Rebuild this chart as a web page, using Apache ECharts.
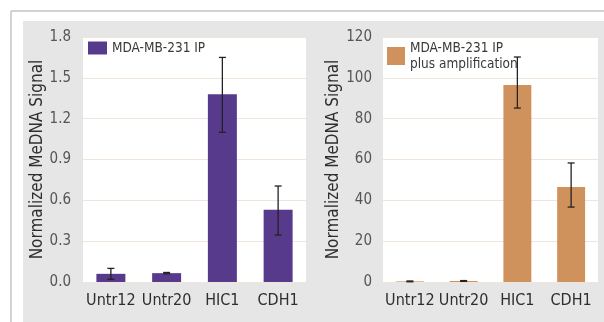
<!DOCTYPE html>
<html>
<head>
<meta charset="utf-8">
<script src="https://cdn.jsdelivr.net/npm/echarts@6/dist/echarts.min.js"></script>
<style>
  html, body { margin: 0; padding: 0; background: #fff; }
  #chart { width: 604px; height: 322px; }
</style>
</head>
<body>
<div id="chart"></div>
<script>
// Gene targets on the x axis
const categories = ['Untr12', 'Untr20', 'HIC1', 'CDH1'];

// MeDNA signal after immunoprecipitation (left panel)
const ipName = 'MDA-MB-231 IP';
const ipValues = [0.06, 0.065, 1.38, 0.53];
const ipLow = [0.02, 0.06, 1.10, 0.345];
const ipHigh = [0.10, 0.07, 1.65, 0.705];
const ipTicks = [0, 0.3, 0.6, 0.9, 1.2, 1.5, 1.8];

// MeDNA signal after immunoprecipitation plus amplification (right panel)
const ampName = 'MDA-MB-231 IP\nplus amplification';
const ampValues = [0.3, 0.5, 96.5, 46.5];
const ampLow = [0.1, 0.3, 85.2, 36.7];
const ampHigh = [0.5, 0.7, 110.2, 58.3];
const ampTicks = [0, 20, 40, 60, 80, 100, 120];

const FONT = '"Liberation Sans Narrow", "DejaVu Sans Condensed", sans-serif';
const PURPLE = '#573a8c';
const ORANGE = '#d0925c';

function errorSeries(xIdx, low, high) {
  return {
    type: 'custom',
    xAxisIndex: xIdx,
    yAxisIndex: xIdx,
    z: 5,
    silent: true,
    data: categories.map((c, i) => [i, low[i], high[i]]),
    renderItem: function (params, api) {
      const x = api.value(0);
      const lo = api.coord([x, api.value(1)]);
      const hi = api.coord([x, api.value(2)]);
      const cap = 3.5;
      const style = { stroke: '#222', lineWidth: 1.3 };
      return {
        type: 'group',
        children: [
          { type: 'line', shape: { x1: hi[0], y1: hi[1], x2: lo[0], y2: lo[1] }, style },
          { type: 'line', shape: { x1: hi[0] - cap, y1: hi[1], x2: hi[0] + cap, y2: hi[1] }, style },
          { type: 'line', shape: { x1: lo[0] - cap, y1: lo[1], x2: lo[0] + cap, y2: lo[1] }, style }
        ]
      };
    }
  };
}

function xAxis(gridIndex) {
  return {
    type: 'category',
    gridIndex,
    data: categories,
    axisLine: { show: false },
    axisTick: { show: false },
    axisLabel: { interval: 0, color: '#2e2e2e', fontFamily: FONT, fontSize: 16, margin: 11 }
  };
}

function yAxis(gridIndex, ticks, decimals, gap, margin) {
  return {
    type: 'value',
    gridIndex,
    min: ticks[0],
    max: ticks[ticks.length - 1],
    interval: ticks[1] - ticks[0],
    name: 'Normalized MeDNA Signal',
    nameLocation: 'middle',
    nameGap: gap,
    nameTextStyle: { color: '#2e2e2e', fontFamily: FONT, fontSize: 17 },
    axisLine: { show: false },
    axisTick: { show: false },
    splitLine: { lineStyle: { color: '#efe5db', width: 1 } },
    axisLabel: {
      color: '#555',
      fontFamily: FONT,
      fontSize: 15,
      margin,
      formatter: v => v.toFixed(decimals)
    }
  };
}

const chart = echarts.init(document.getElementById('chart'), null, { renderer: 'canvas' });

chart.setOption({
  backgroundColor: '#fff',
  animation: false,
  graphic: [
    { type: 'rect', z: -10, shape: { x: 23, y: 21, width: 581, height: 301 }, style: { fill: '#e6e6e7' } },
    { type: 'line', z: -10, shape: { x1: 11, y1: 11, x2: 604, y2: 11 }, style: { stroke: '#c4c4c4', lineWidth: 1.5 } },
    { type: 'line', z: -10, shape: { x1: 11, y1: 11, x2: 11, y2: 322 }, style: { stroke: '#c4c4c4', lineWidth: 1.5 } }
  ],
  grid: [
    { left: 83, top: 37, width: 223, height: 245, show: true, backgroundColor: '#fff', borderWidth: 0 },
    { left: 383, top: 37, width: 215, height: 245, show: true, backgroundColor: '#fff', borderWidth: 0 }
  ],
  legend: [
    {
      data: [ipName],
      left: 83, top: 36,
      itemWidth: 19, itemHeight: 13, itemGap: 0,
      icon: 'rect',
      textStyle: { color: '#3a3a3a', fontFamily: FONT, fontSize: 13.5 },
      selectedMode: false
    },
    {
      data: [ampName],
      left: 382, top: 35,
      itemWidth: 18, itemHeight: 18, itemGap: 0,
      icon: 'rect',
      textStyle: { color: '#3a3a3a', fontFamily: FONT, fontSize: 13.5, lineHeight: 16 },
      selectedMode: false
    }
  ],
  xAxis: [xAxis(0), xAxis(1)],
  yAxis: [yAxis(0, ipTicks, 1, 29, 12), yAxis(1, ampTicks, 0, 31, 11)],
  series: [
    { name: ipName, type: 'bar', xAxisIndex: 0, yAxisIndex: 0, barWidth: '52%', data: ipValues, itemStyle: { color: PURPLE } },
    errorSeries(0, ipLow, ipHigh),
    { name: ampName, type: 'bar', xAxisIndex: 1, yAxisIndex: 1, barWidth: '52%', data: ampValues, itemStyle: { color: ORANGE } },
    errorSeries(1, ampLow, ampHigh)
  ]
});
</script>
</body>
</html>
